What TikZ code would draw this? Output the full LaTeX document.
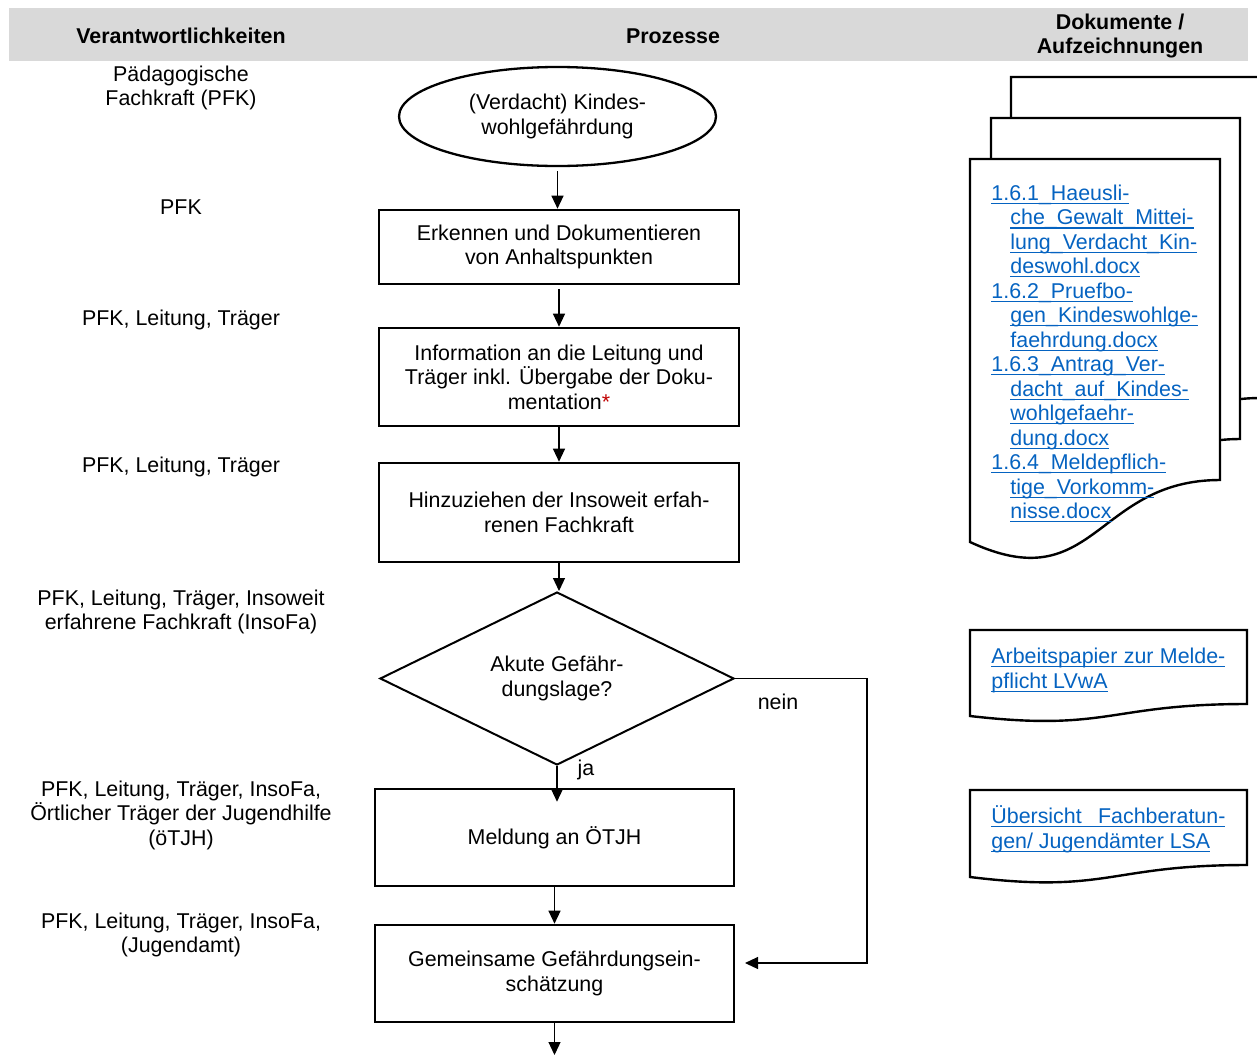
\documentclass[tikz,border=0pt]{standalone}
\usepackage{fontspec}
\setmainfont{Liberation Sans}
\usetikzlibrary{shapes.geometric, arrows.meta}
\definecolor{kopfgrau}{HTML}{D9D9D9}
\definecolor{linkblau}{HTML}{0563C1}
\definecolor{sternrot}{HTML}{C00000}
\newsavebox{\linkbox}
\newcommand{\doclink}[1]{\sbox{\linkbox}{#1}\rlap{\rule[-2.1pt]{\wd\linkbox}{0.8pt}}\usebox{\linkbox}}

\begin{document}
\begin{tikzpicture}[x=0.5pt, y=-0.5pt,
    every node/.style={font=\fontsize{10.7}{12.25}\selectfont},
    rolle/.style={align=center, inner sep=0pt},
    kopf/.style={align=center, inner sep=0pt, font=\fontsize{10.7}{12.25}\selectfont\bfseries},
    prozess/.style={draw, line width=1.3pt, align=center, minimum width=180pt, inner sep=2pt},
    pfeil/.style={line width=0.6pt, -{Triangle[length=6.5pt, width=6pt]}},
    dokument/.style={draw, line width=1.2pt, fill=white},
    link/.style={anchor=base west, inner sep=0pt, text=linkblau}]
        \useasboundingbox (0,0) rectangle (1257,1055);
        \fill[kopfgrau] (9,8) rectangle (1248,61);
        \node[kopf] (verantw) at (181,36) {Verantwortlichkeiten};
        \node[kopf] (prozesse) at (673,36) {Prozesse};
        \node[kopf] (dokumente) at (1120,36) {Dokumente /\\Aufzeichnungen};

        \node[rolle] (paed) at (181,88) {Pädagogische\\Fachkraft (PFK)};
        \node[rolle] (pfk) at (181,207) {PFK};
        \node[rolle] (traeger1) at (181,320) {PFK, Leitung, Träger};
        \node[rolle] (traeger2) at (181,467) {PFK, Leitung, Träger};
        \node[rolle] (insofa) at (181,612) {PFK, Leitung, Träger, Insoweit\\erfahrene Fachkraft (InsoFa)};
        \node[rolle] (oetjh) at (181,815) {PFK, Leitung, Träger, InsoFa,\\Örtlicher Träger der Jugendhilfe\\(öTJH)};
        \node[rolle] (jugendamt) at (181,935) {PFK, Leitung, Träger, InsoFa,\\(Jugendamt)};

        \node[draw, ellipse, line width=1.15pt, minimum width=158.5pt, minimum height=49.5pt, inner sep=0pt, align=center] (verdacht) at (557.5,116.5) {(Verdacht) Kindes-\\wohlgefährdung};
        \node[prozess, minimum height=37pt] (erkennen) at (559,247) {Erkennen und Dokumentieren\\von Anhaltspunkten};
        \node[prozess, minimum height=49pt] (information) at (559,377) {Information an die Leitung und\\Träger inkl. Übergabe der Doku-\\mentation\textcolor{sternrot}{*}};
        \node[prozess, minimum height=49.5pt] (hinzuziehen) at (559,512.5) {Hinzuziehen der Insoweit erfah-\\renen Fachkraft};
        \node[draw, diamond, aspect=2, line width=1pt, minimum width=177pt, minimum height=86.5pt, inner sep=0pt, align=center] (akut) at (557,678.5) {Akute Gefähr-\\dungslage?};
        \node[prozess, minimum width=179.5pt, minimum height=48.5pt] (meldung) at (554.5,837.5) {Meldung an ÖTJH};
        \node[prozess, minimum width=179.5pt, minimum height=48.5pt] (gemeinsam) at (554.5,973.5) {Gemeinsame Gefährdungsein-\\schätzung};

        \draw[pfeil, shorten <=2pt] (verdacht.south) -- (verdacht.south |- erkennen.north);
        \draw[pfeil, shorten <=2pt] (erkennen) -- (information);
        \draw[pfeil] (information) -- (hinzuziehen);
        \draw[pfeil] (hinzuziehen.south) -- (hinzuziehen.south |- akut.north);
        \draw[pfeil, shorten >=-7pt] (akut.south) -- (akut.south |- meldung.north);
        \node (ja) at (586,770) {ja};
        \draw[pfeil] (meldung) -- (gemeinsam);
        \coordinate (weiter) at (555,1055);
        \draw[pfeil] (gemeinsam.south) -- (gemeinsam.south |- weiter);

        \coordinate (neinziel) at (745,963);
        \draw[pfeil] (akut.east) -- ++(132,0) |- (neinziel);
        \node (nein) at (778,702) {nein};

        \draw[dokument] (1011,77) -- (1260,77) -- (1260,398) .. controls (1136,398) and (1136,518) .. (1011,460) -- cycle;
        \draw[dokument] (991,118) -- (1240,118) -- (1240,439) .. controls (1116,439) and (1116,559) .. (991,501) -- cycle;
        \draw[dokument] (970,159) -- (1220,159) -- (1220,480) .. controls (1095,480) and (1095,600) .. (970,542) -- cycle;

        \node[link] (haeuslich1) at (991,200) {\doclink{1.6.1\_Haeusli-}};
        \node[link] (haeuslich2) at (1010,224.5) {\doclink{che\_Gewalt\_Mittei-}};
        \node[link] (haeuslich3) at (1010,249) {\doclink{lung\_Verdacht\_Kin-}};
        \node[link] (haeuslich4) at (1010,273) {\doclink{deswohl.docx}};
        \node[link] (pruef1) at (991,298) {\doclink{1.6.2\_Pruefbo-}};
        \node[link] (pruef2) at (1010,322) {\doclink{gen\_Kindeswohlge-}};
        \node[link] (pruef3) at (1010,347) {\doclink{faehrdung.docx}};
        \node[link] (antrag1) at (991,371) {\doclink{1.6.3\_Antrag\_Ver-}};
        \node[link] (antrag2) at (1010,396) {\doclink{dacht\_auf\_Kindes-}};
        \node[link] (antrag3) at (1010,420) {\doclink{wohlgefaehr-}};
        \node[link] (antrag4) at (1010,445) {\doclink{dung.docx}};
        \node[link] (melde1) at (991,469) {\doclink{1.6.4\_Meldepflich-}};
        \node[link] (melde2) at (1010,494) {\doclink{tige\_Vorkomm-}};
        \node[link] (melde3) at (1010,518) {\doclink{nisse.docx}};

        \draw[dokument] (970,630) -- (1247,630) -- (1247,704) .. controls (1108.5,704) and (1108.5,732) .. (970,716) -- cycle;
        \node[link] (lvwa1) at (991,663) {\doclink{\hbox to 117pt{Arbeitspapier zur Melde-}}};
        \node[link] (lvwa2) at (991,688) {\doclink{pflicht LVwA}};

        \draw[dokument] (970,790) -- (1247,790) -- (1247,865) .. controls (1108.5,865) and (1108.5,894) .. (970,877) -- cycle;
        \node[link] (lsa1) at (991,823) {\doclink{\hbox to 117pt{Übersicht Fachberatun-}}};
        \node[link] (lsa2) at (991,848) {\doclink{gen/ Jugendämter LSA}};

    \end{tikzpicture}
\end{document}
